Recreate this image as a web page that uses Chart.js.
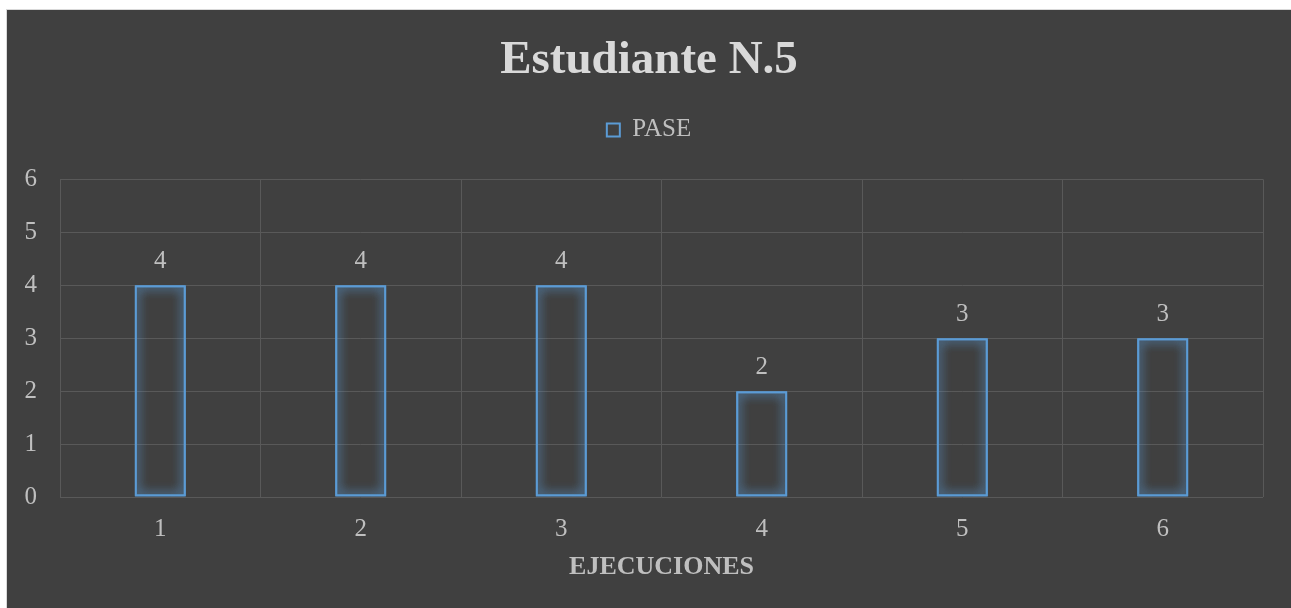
<!DOCTYPE html>
<html>
<head>
<meta charset="utf-8">
<title>Estudiante N.5</title>
<script src="https://cdn.jsdelivr.net/npm/chart.js@4.4.1/dist/chart.umd.min.js"></script>
<style>
  html, body { margin: 0; padding: 0; background: #ffffff; overflow: hidden; }
  #frame {
    position: absolute; left: 6px; top: 9px;
    width: 1285px; height: 599px;
    border-left: 1px solid #d9d9d9; border-top: 1px solid #d9d9d9;
    background: #404040;
  }
  #chart { display: block; }
</style>
</head>
<body>
<div id="frame"><canvas id="chart" width="1284" height="598"></canvas></div>
<script>
// Ejecuciones y resultados del pase
var ejecuciones = ['1', '2', '3', '4', '5', '6'];
var pase = [4, 4, 4, 2, 3, 3];
var yTicks = [0, 1, 2, 3, 4, 5, 6];

var BLUE = '#5b9bd5';
var TEXT = '#bfbfbf';
var GRID = '#595959';
var SERIF = '"Liberation Serif", "Times New Roman", serif';

// soft glow around the bar outlines (bars are stroked a second time to thicken it)
var glowPlugin = {
  id: 'glow',
  beforeDatasetsDraw: function(chart) {
    var ctx = chart.ctx;
    ctx.save();
    ctx.shadowColor = 'rgba(91,155,213,1)';
    ctx.shadowBlur = 11;
  },
  afterDatasetsDraw: function(chart) {
    var ctx = chart.ctx;
    chart.getDatasetMeta(0).data.forEach(function(bar) { bar.draw(ctx); });
    ctx.restore();
  }
};

// value labels above each bar
var valueLabels = {
  id: 'valueLabels',
  afterDatasetsDraw: function(chart) {
    var ctx = chart.ctx;
    ctx.save();
    ctx.font = '25px ' + SERIF;
    ctx.fillStyle = TEXT;
    ctx.textAlign = 'center';
    ctx.textBaseline = 'alphabetic';
    chart.data.datasets.forEach(function(ds, i) {
      chart.getDatasetMeta(i).data.forEach(function(bar, j) {
        ctx.fillText(String(ds.data[j]), bar.x, bar.y - 17);
      });
    });
    ctx.restore();
  }
};

// extra room under the legend, and title/legend centred on the whole canvas
var headerLayout = {
  id: 'headerLayout',
  beforeInit: function(chart) {
    var fit = chart.legend.fit;
    chart.legend.fit = function() {
      fit.bind(chart.legend)();
      this.height += 27;
    };
  },
  afterLayout: function(chart) {
    [chart.titleBlock, chart.legend].forEach(function(box) {
      if (!box) return;
      box.left = 0;
      box.right = chart.width;
      box.width = chart.width;
    });
  }
};

new Chart(document.getElementById('chart').getContext('2d'), {
  type: 'bar',
  data: {
    labels: ejecuciones,
    datasets: [{
      label: 'PASE',
      data: pase,
      backgroundColor: 'rgba(0,0,0,0)',
      borderColor: BLUE,
      borderWidth: 2,
      borderSkipped: false,
      categoryPercentage: 1,
      barPercentage: 0.255
    }]
  },
  options: {
    responsive: false,
    animation: false,
    layout: { padding: { left: 17, right: 28, top: 23, bottom: 25 } },
    plugins: {
      tooltip: { enabled: false },
      title: {
        display: true,
        text: 'Estudiante N.5',
        color: '#d9d9d9',
        font: { family: SERIF, size: 47, weight: 'bold' },
        padding: { top: 0, bottom: 18 }
      },
      legend: {
        position: 'top',
        labels: {
          color: TEXT,
          font: { family: SERIF, size: 25 },
          boxWidth: 13,
          boxHeight: 13,
          padding: 10
        }
      }
    },
    scales: {
      x: {
        afterFit: function(axis) { axis.height = 86; },
        grid: { color: GRID, lineWidth: 1, drawTicks: false, offset: true },
        border: { display: false },
        ticks: { color: TEXT, font: { family: SERIF, size: 25 }, padding: 17 },
        title: {
          display: true,
          text: 'EJECUCIONES',
          color: TEXT,
          font: { family: SERIF, size: 26, weight: 'bold' },
          padding: { top: 0, bottom: 0 }
        }
      },
      y: {
        min: 0,
        max: 6,
        afterBuildTicks: function(axis) {
          axis.ticks = yTicks.map(function(v) { return { value: v }; });
        },
        afterFit: function(axis) { axis.width = 36; },
        grid: { color: GRID, lineWidth: 1, drawTicks: false },
        border: { display: false },
        ticks: { color: TEXT, font: { family: SERIF, size: 25 }, padding: 23 }
      }
    }
  },
  plugins: [glowPlugin, valueLabels, headerLayout]
});
</script>
</body>
</html>
